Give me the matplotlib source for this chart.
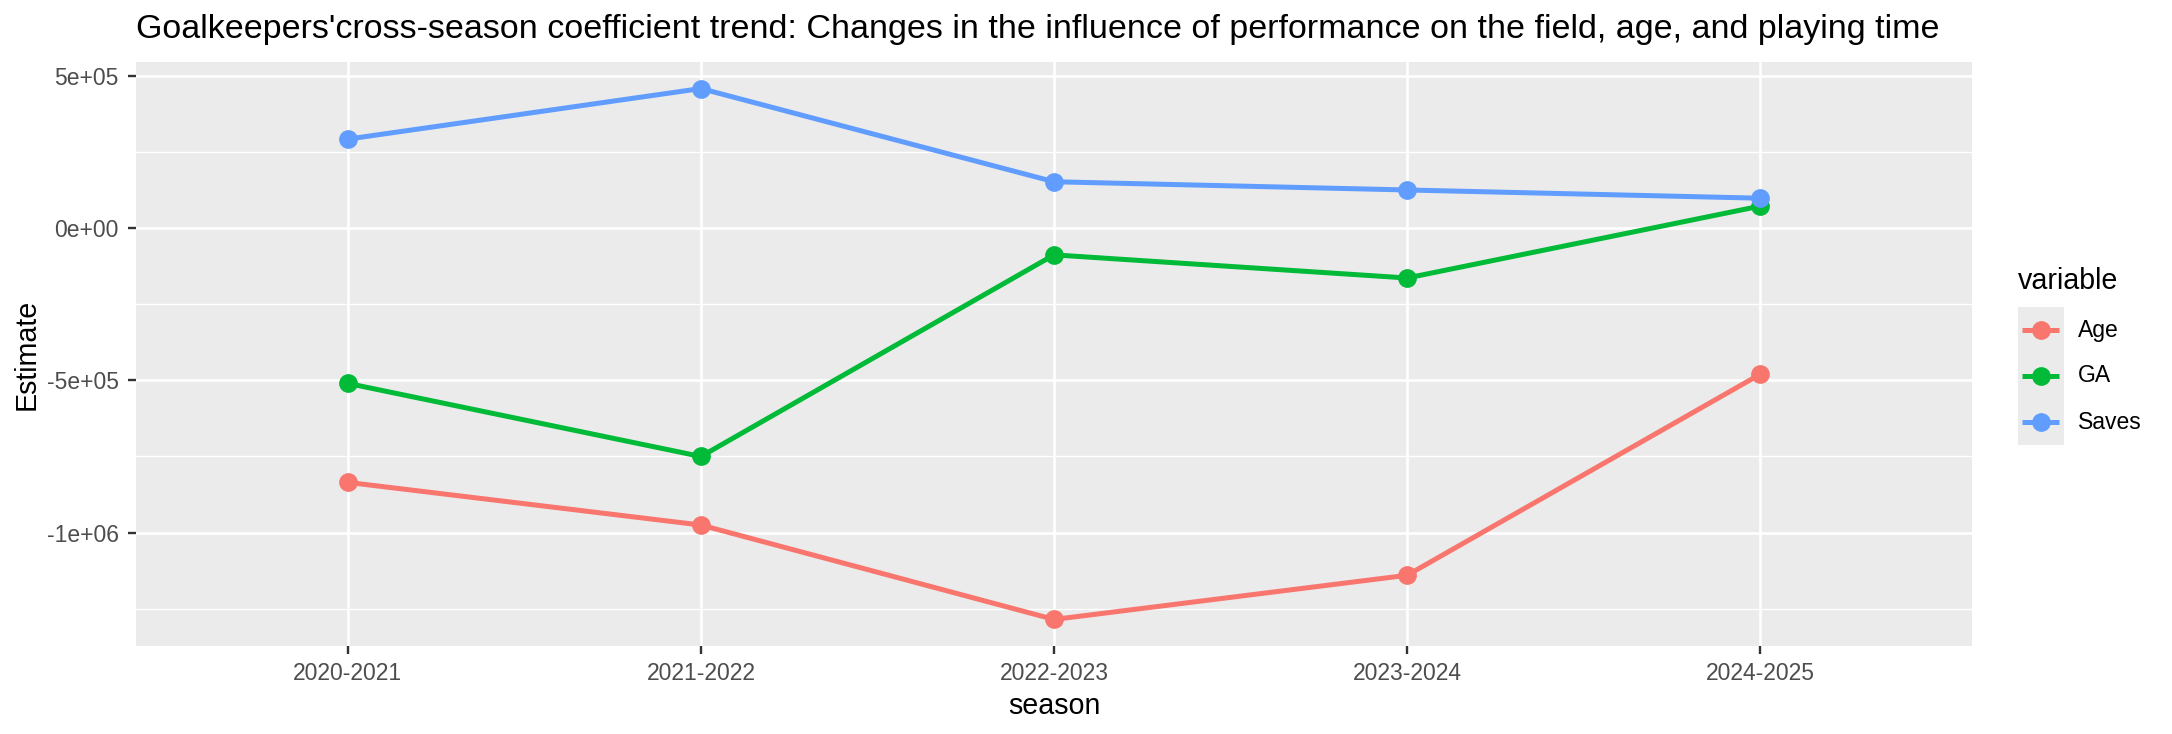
import matplotlib
matplotlib.use("Agg")
import matplotlib.pyplot as plt
from matplotlib.ticker import FixedLocator, FuncFormatter
import numpy as np

plt.rcParams['font.family'] = ['Liberation Sans', 'DejaVu Sans']

seasons = ["2020-2021", "2021-2022", "2022-2023", "2023-2024", "2024-2025"]
variables = ["Age", "GA", "Saves"]
age = [-8.35e5, -9.75e5, -1.285e6, -1.14e6, -4.8e5]
ga = [-5.1e5, -7.5e5, -0.88e5, -1.64e5, 0.72e5]
saves = [2.92e5, 4.58e5, 1.52e5, 1.25e5, 0.98e5]
colors = ["#F8766D", "#00BA38", "#619CFF"]
series = [age, ga, saves]

W, H = 2172, 734
fig = plt.figure(figsize=(W / 100, H / 100), dpi=100)
L, R, T, B = 136, 1972, 62, 646
ax = fig.add_axes([L / W, 1 - B / H, (R - L) / W, (B - T) / H])
ax.set_facecolor("#EBEBEB")
for s in ax.spines.values():
    s.set_visible(False)

LW, MS = 3.6, 13.5
x = np.arange(1, len(seasons) + 1)
for vals, c in zip(series, colors):
    ax.plot(x, vals, color=c, lw=LW, marker="o", ms=MS, mec=c, mfc=c, mew=0, zorder=3)

allv = np.concatenate([np.array(v) for v in series])
lo, hi = allv.min(), allv.max()
pad = 0.05 * (hi - lo)
ax.set_ylim(lo - pad, hi + pad)
ax.set_xlim(0.4, len(seasons) + 0.6)

ax.set_xticks(x)
ax.set_xticklabels(seasons)
yt = [-1e6, -5e5, 0, 5e5]
ax.yaxis.set_major_locator(FixedLocator(yt))
ax.yaxis.set_minor_locator(FixedLocator([-1.25e6, -7.5e5, -2.5e5, 2.5e5]))
labels = {-1e6: "-1e+06", -5e5: "-5e+05", 0: "0e+00", 5e5: "5e+05"}
ax.yaxis.set_major_formatter(FuncFormatter(lambda v, p: labels.get(round(v), "")))

ax.grid(which="major", color="white", lw=1.9)
ax.grid(which="minor", axis="y", color="white", lw=0.95)
ax.set_axisbelow(True)
ax.tick_params(axis="both", which="major", length=6, width=1.7, color="#333333",
               labelcolor="#4D4D4D", labelsize=16.5)
ax.tick_params(axis="x", which="major", pad=5.5)
ax.tick_params(axis="y", which="major", pad=6.5)
ax.tick_params(axis="y", which="minor", length=0)

fig.text((L + R) / 2 / W, 1 - 706 / H, "season", fontsize=20.6, ha="center", va="center", color="black")
fig.text(27 / W, 1 - (T + B) / 2 / H, "Estimate", fontsize=20.6, ha="center", va="center",
         rotation=90, color="black")

fig.text(L / W, 1 - 38 / H, "Goalkeepers'cross-season coefficient trend: Changes in the influence of performance on the field, age, and playing time",
         fontsize=24.5, ha="left", va="baseline", color="black")

# legend
kx0, kx1 = 2018, 2064
ky0 = 307
kh = 46
lax = fig.add_axes([kx0 / W, 1 - (ky0 + kh * 3) / H, (kx1 - kx0) / W, kh * 3 / H])
lax.set_facecolor("#EBEBEB")
lax.set_xlim(0, 1)
lax.set_ylim(0, 3)
lax.set_xticks([])
lax.set_yticks([])
for s in lax.spines.values():
    s.set_visible(False)
for i, (name, c) in enumerate(zip(variables, colors)):
    yc = 2.5 - i
    lax.plot([0.087, 0.89], [yc, yc], color=c, lw=LW, solid_capstyle="butt")
    lax.plot([0.5], [yc], marker="o", ms=MS, color=c, mew=0)
    fig.text(2078 / W, 1 - (ky0 + kh * (i + 0.5)) / H, name, fontsize=16.5,
             ha="left", va="center", color="black")
fig.text(kx0 / W, 1 - 289 / H, "variable", fontsize=20.6, ha="left", va="baseline", color="black")

fig.savefig("out.png", dpi=100, facecolor="white")
